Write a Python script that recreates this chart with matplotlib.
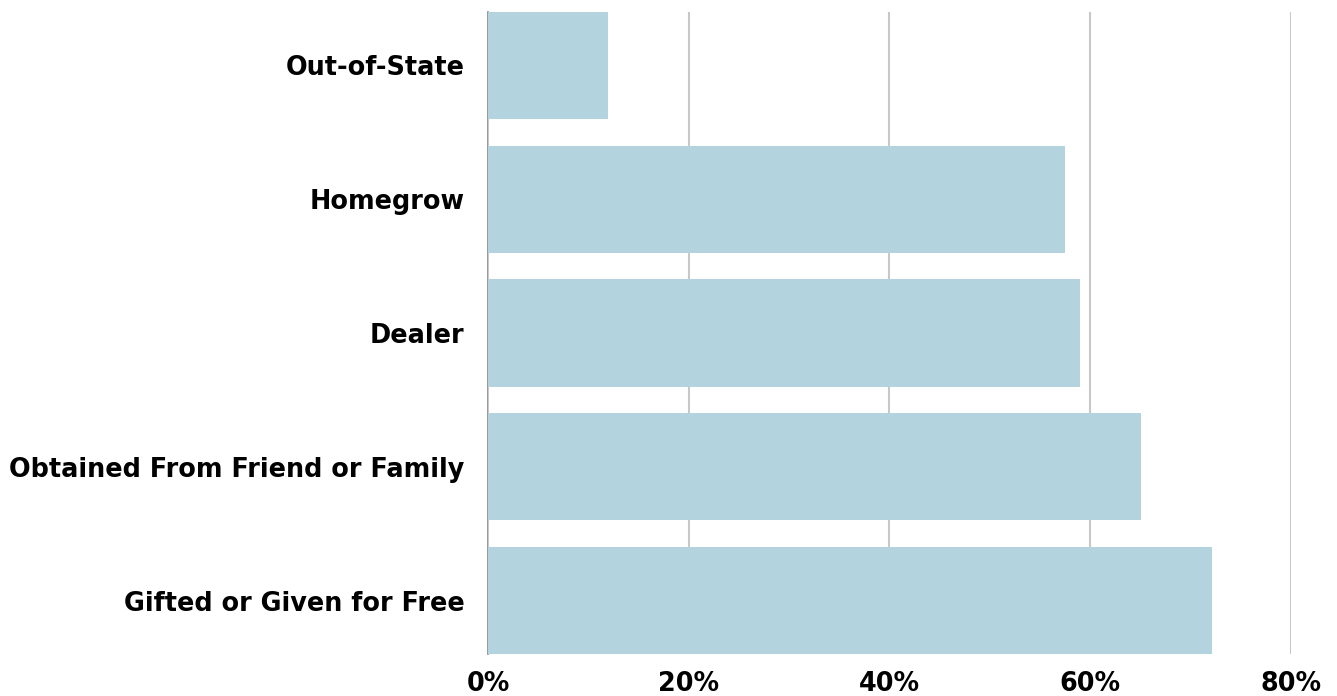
import matplotlib.pyplot as plt
from matplotlib.ticker import FuncFormatter

# data (top to bottom as shown)
categories = ["Out-of-State", "Homegrow", "Dealer",
              "Obtained From Friend or Family", "Gifted or Given for Free"]
values = [12.0, 57.5, 59.0, 65.1, 72.1]
xticks = [0, 20, 40, 60, 80]

plt.rcParams['font.family'] = ['DejaVu Sans']

fig = plt.figure(figsize=(13.37, 6.96), dpi=100)
ax = fig.add_axes([0.365, 0.0603, 0.6005, 0.9225])

pos = list(range(len(categories)))
ax.barh(pos, values, height=0.8, color="#b3d4df", zorder=3)

ax.set_ylim(len(categories) - 0.6, -0.4)
ax.set_xlim(0, 80)
ax.set_yticks(pos)
ax.set_yticklabels(categories, fontsize=18.4, fontweight='bold')
ax.set_xticks(xticks)
ax.xaxis.set_major_formatter(FuncFormatter(lambda v, p: "%d%%" % v))
for lab in ax.get_xticklabels():
    lab.set_fontsize(18.4)
    lab.set_fontweight('bold')

ax.tick_params(axis='y', length=0, pad=17)
ax.tick_params(axis='x', length=0, pad=12)

ax.grid(axis='x', color="#c8c8c8", linewidth=1.5, zorder=0)
for s in ['top', 'right', 'bottom']:
    ax.spines[s].set_visible(False)
ax.spines['left'].set_color("#888888")
ax.spines['left'].set_linewidth(1.2)
ax.spines['left'].set_zorder(1)

fig.savefig("out.png", dpi=100)
